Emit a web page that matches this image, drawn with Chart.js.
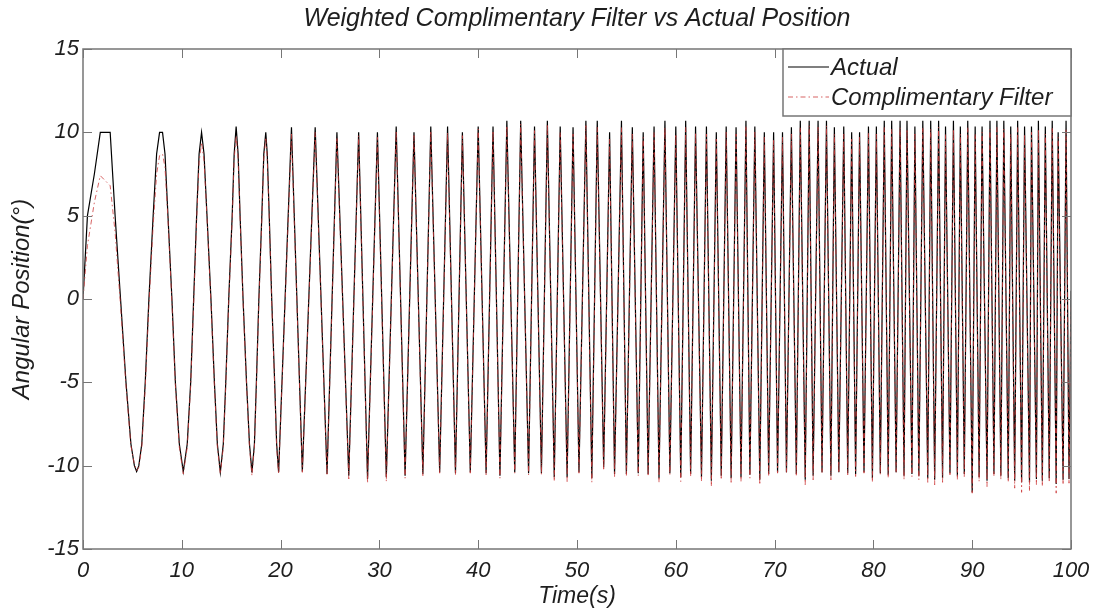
<!DOCTYPE html>
<html>
<head>
<meta charset="utf-8">
<script src="https://cdn.jsdelivr.net/npm/chart.js@4.4.1/dist/chart.umd.min.js"></script>
<style>
  body { margin: 0; background: #fff; }
  canvas { display: block; }
</style>
</head>
<body>
<canvas id="chirpChart" width="1102" height="612"></canvas>
<script>
// first few slow cycles, read with extra points so the shape stays round
var earlyTime = [0, 0.45, 1.15, 1.75, 2.75, 3.25, 3.8, 4.35, 4.85, 5.2,
  5.43, 5.65, 5.95, 6.3, 6.67, 7.1, 7.45, 7.75, 8.05, 8.3,
  8.6, 9.0, 9.35, 9.75, 10.15, 10.55, 10.9, 11.2, 11.5, 11.75,
  12.0, 12.25, 12.55, 12.95, 13.3, 13.6, 13.9, 14.2, 14.45, 14.75,
  15.1, 15.3, 15.5, 15.7, 15.9, 16.2, 16.55, 16.85, 17.1, 17.35,
  17.55, 17.8, 18.1, 18.3, 18.5, 18.65, 18.85, 19.1, 19.4, 19.6];
var earlyActual = [0, 5, 7.5, 10, 10, 5, 0, -5, -8.7, -10,
  -10.35, -10, -8.7, -5, 0, 5, 8.7, 10, 10, 8.7,
  5, 0, -5, -8.7, -10.35, -8.7, -5, 0, 5, 8.7,
  10, 8.7, 5, 0, -5, -8.7, -10.4, -8.7, -5, 0,
  5, 8.7, 10.35, 8.7, 5, 0, -5, -8.7, -10.4, -8.7,
  -5, 0, 5, 8.7, 10, 8.7, 5, 0, -5, -8.7];
var earlyFilter = [0, 3.2, 5.8, 7.4, 6.8, 4.0, -0.4, -5.2, -8.8, -9.9,
  -10.3, -10.1, -8.9, -5.3, -0.4, 4.4, 7.5, 8.6, 8.7, 7.9,
  4.8, -0.2, -5.2, -8.9, -10.5, -8.9, -5.2, -0.3, 4.7, 8.2,
  9.4, 8.3, 4.9, -0.2, -5.2, -8.9, -10.5, -8.9, -5.2, -0.2,
  4.8, 8.4, 9.8, 8.4, 4.9, -0.2, -5.1, -8.9, -10.6, -8.9,
  -5.2, -0.2, 4.8, 8.4, 9.7, 8.4, 4.9, -0.2, -5.2, -8.9];

// faster part: peaks and troughs
var peakTime = [21.1, 23.5, 25.7, 27.9, 29.8, 31.7, 33.5, 35.2, 36.9, 38.4,
  40.0, 41.5, 42.9, 44.3, 45.7, 47.0, 48.3, 49.6, 50.9, 52.05,
  53.3, 54.5, 55.6, 56.7, 57.8, 58.9, 60.0, 61.0, 62.0, 63.1,
  64.1, 65.1, 66.1, 67.1, 68.0, 68.96, 69.9, 70.8, 71.7, 72.6,
  73.5, 74.4, 75.25, 76.05, 77.0, 77.8, 78.6, 79.5, 80.3, 81.1,
  81.85, 82.7, 83.4, 84.2, 85.0, 85.8, 86.6, 87.3, 88.1, 88.8,
  89.55, 90.3, 91.0, 91.8, 92.5, 93.2, 93.9, 94.6, 95.3, 96.0,
  96.7, 97.4, 98.1, 98.7, 99.5];
var peakActual = [10.3, 10.3, 10.0, 10.0, 10.0, 10.35, 10.0, 10.35, 10.35, 10.0,
  10.35, 10.35, 10.7, 10.7, 10.35, 10.7, 10.35, 10.3, 10.7, 10.7,
  10.0, 10.7, 10.3, 10.0, 10.35, 10.7, 10.35, 10.7, 10.35, 10.35,
  10.0, 10.35, 10.3, 10.7, 10.35, 10.0, 10.0, 10.0, 10.3, 10.7,
  10.7, 10.7, 10.7, 10.3, 10.35, 10.0, 10.0, 10.35, 10.35, 10.7,
  10.7, 10.7, 10.7, 10.35, 10.7, 10.7, 10.7, 10.35, 10.7, 10.35,
  10.7, 10.35, 10.35, 10.7, 10.7, 10.7, 10.35, 10.7, 10.35, 10.35,
  10.7, 10.35, 10.7, 10.0, 10.7];
var peakFilter = [9.9, 10.0, 9.7, 9.8, 9.7, 10.1, 9.8, 10.1, 10.0, 9.8,
  10.2, 10.1, 10.4, 10.5, 10.1, 10.5, 10.0, 9.9, 10.4, 10.3,
  9.6, 10.3, 9.9, 9.7, 10.0, 10.3, 9.9, 10.3, 10.0, 9.9,
  9.6, 10.0, 9.9, 10.4, 10.0, 9.7, 9.6, 9.7, 9.9, 10.3,
  10.4, 10.3, 10.4, 9.9, 9.9, 9.6, 9.7, 10.0, 9.9, 10.3,
  10.2, 10.3, 10.2, 9.9, 10.3, 10.2, 10.3, 9.9, 10.2, 9.9,
  10.3, 9.9, 10.0, 10.2, 10.3, 10.2, 9.9, 10.3, 9.9, 10.0,
  10.2, 9.9, 10.3, 9.7, 10.2];

var troughTime = [19.8, 22.2, 24.7, 26.9, 28.8, 30.7, 32.6, 34.4, 36.1, 37.7,
  39.2, 40.8, 42.2, 43.7, 45.1, 46.4, 47.7, 49.0, 50.2, 51.5,
  52.7, 53.8, 55.0, 56.2, 57.2, 58.3, 59.4, 60.5, 61.5, 62.6,
  63.6, 64.6, 65.6, 66.6, 67.5, 68.5, 69.4, 70.3, 71.2, 72.2,
  73.1, 73.9, 74.8, 75.7, 76.5, 77.4, 78.2, 79.05, 79.9, 80.7,
  81.5, 82.3, 83.1, 83.9, 84.6, 85.5, 86.2, 87.0, 87.75, 88.5,
  89.2, 90.0, 90.7, 91.5, 92.2, 92.9, 93.65, 94.3, 95.0, 95.8,
  96.5, 97.1, 97.8, 98.5, 99.2, 99.8];
var troughActual = [-10.4, -10.35, -10.5, -10.6, -10.8, -10.7, -10.6, -10.5, -10.4, -10.45,
  -10.4, -10.45, -10.6, -10.4, -10.45, -10.45, -10.7, -10.7, -10.4, -10.75,
  -10.1, -10.5, -10.5, -10.45, -10.5, -10.75, -10.45, -10.7, -10.5, -10.7,
  -10.9, -10.6, -10.75, -10.7, -10.55, -10.85, -10.5, -10.4, -10.4, -10.5,
  -10.85, -10.6, -10.4, -10.6, -10.4, -10.45, -10.5, -10.4, -10.75, -10.45,
  -10.55, -10.4, -10.6, -10.5, -10.6, -10.75, -10.85, -10.75, -10.45, -10.6,
  -10.5, -11.6, -10.7, -10.9, -10.5, -10.6, -10.75, -10.9, -11.0, -11.0,
  -10.8, -10.9, -10.75, -11.1, -10.85, -10.8];
var troughFilter = [-10.5, -10.4, -10.6, -10.8, -11.05, -10.95, -10.75, -10.6, -10.45, -10.55,
  -10.45, -10.55, -10.75, -10.45, -10.55, -10.55, -10.95, -10.95, -10.45, -11.0,
  -10.3, -10.65, -10.65, -10.6, -10.65, -11.0, -10.55, -10.95, -10.65, -10.95,
  -11.25, -10.85, -11.0, -10.95, -10.75, -11.15, -10.65, -10.45, -10.45, -10.65,
  -11.15, -10.85, -10.45, -10.85, -10.45, -10.55, -10.65, -10.45, -11.0, -10.55,
  -10.75, -10.45, -10.85, -10.65, -10.85, -11.0, -11.15, -11.0, -10.55, -10.85,
  -10.65, -11.65, -10.95, -11.25, -10.65, -10.85, -11.0, -11.35, -11.6, -11.55,
  -11.15, -11.25, -11.0, -11.65, -11.15, -11.05];

var endTime = [100];
var endActual = [0.5];
var endFilter = [-0.5];

var yTicks = [-15, -10, -5, 0, 5, 10, 15];
var xTicks = [0, 10, 20, 30, 40, 50, 60, 70, 80, 90, 100];

var FONT = "'Liberation Sans', Arial, sans-serif";
var TEXT = '#1e1e1e';
var AXIS = '#767676';

function toPoints(times, values) {
    return times.map(function (t, i) { return { x: t, y: values[i] }; });
}

function buildSeries(early, peaks, troughs, end) {
    var pts = early.concat(peaks, troughs, end);
    pts.sort(function (a, b) { return a.x - b.x; });
    return pts;
}

var actualData = buildSeries(
    toPoints(earlyTime, earlyActual),
    toPoints(peakTime, peakActual),
    toPoints(troughTime, troughActual),
    toPoints(endTime, endActual));
var filterData = buildSeries(
    toPoints(earlyTime, earlyFilter),
    toPoints(peakTime, peakFilter),
    toPoints(troughTime, troughFilter),
    toPoints(endTime, endFilter));

// MATLAB style box, inward ticks and legend in the corner
var framePlugin = {
    id: 'frame',
    afterLayout: function (chart) {
        // centre the title over the plot box, like MATLAB does
        if (chart.titleBlock) {
            chart.titleBlock.left = chart.chartArea.left;
            chart.titleBlock.right = chart.chartArea.right;
        }
    },
    afterDatasetsDraw: function (chart) {
        var ctx = chart.ctx;
        var a = chart.chartArea;
        var xs = chart.scales.x, ys = chart.scales.y;
        ctx.save();
        ctx.strokeStyle = AXIS;
        ctx.lineWidth = 1.5;
        ctx.strokeRect(a.left, a.top, a.right - a.left, a.bottom - a.top);

        ctx.beginPath();
        xTicks.forEach(function (v) {
            var px = Math.round(xs.getPixelForValue(v)) + 0.5;
            ctx.moveTo(px, a.bottom); ctx.lineTo(px, a.bottom - 9);
            ctx.moveTo(px, a.top); ctx.lineTo(px, a.top + 9);
        });
        yTicks.forEach(function (v) {
            var py = Math.round(ys.getPixelForValue(v)) + 0.5;
            ctx.moveTo(a.left, py); ctx.lineTo(a.left + 9, py);
            ctx.moveTo(a.right, py); ctx.lineTo(a.right - 9, py);
        });
        ctx.lineWidth = 1;
        ctx.stroke();

        // legend
        var bx = 783, by = a.top, bw = a.right - 783, bh = 67;
        ctx.fillStyle = '#fff';
        ctx.fillRect(bx, by, bw, bh);
        ctx.lineWidth = 1.5;
        ctx.strokeRect(bx, by, bw, bh);

        var rows = [
            { ds: chart.data.datasets[0], y: by + 18 },
            { ds: chart.data.datasets[1], y: by + 48 }
        ];
        rows.forEach(function (r) {
            ctx.beginPath();
            ctx.strokeStyle = r.ds.borderColor;
            ctx.lineWidth = 1.2;
            ctx.setLineDash(r.ds.borderDash || []);
            ctx.moveTo(bx + 5, r.y);
            ctx.lineTo(bx + 46, r.y);
            ctx.stroke();
            ctx.setLineDash([]);
            ctx.fillStyle = TEXT;
            ctx.font = 'italic 24px ' + FONT;
            ctx.textBaseline = 'middle';
            ctx.textAlign = 'left';
            ctx.fillText(r.ds.label, bx + 48, r.y + 1);
        });
        ctx.restore();
    }
};

var ctxChirp = document.getElementById('chirpChart').getContext('2d');

var chirpChart = new Chart(ctxChirp, {
    type: 'line',
    data: {
        datasets: [{
            label: 'Actual',
            data: actualData,
            borderColor: '#000000',
            borderWidth: 1.2,
            pointRadius: 0,
            tension: 0,
            order: 1
        }, {
            label: 'Complimentary Filter',
            data: filterData,
            borderColor: 'rgba(205, 60, 60, 0.8)',
            borderWidth: 1,
            borderDash: [5, 3, 1.5, 3],
            pointRadius: 0,
            tension: 0,
            order: 0
        }]
    },
    options: {
        responsive: false,
        animation: false,
        devicePixelRatio: 1,
        layout: {
            padding: { left: 0, right: 31, top: 0, bottom: 0 }
        },
        plugins: {
            legend: { display: false },
            tooltip: { enabled: false },
            title: {
                display: true,
                text: 'Weighted Complimentary Filter vs Actual Position',
                color: TEXT,
                font: { family: FONT, size: 25, style: 'italic', weight: 'normal' },
                padding: { top: 4, bottom: 15 }
            }
        },
        scales: {
            x: {
                type: 'linear',
                min: 0,
                max: 100,
                afterBuildTicks: function (scale) {
                    scale.ticks = xTicks.map(function (v) { return { value: v }; });
                },
                afterFit: function (scale) { scale.height = 63; },
                grid: { display: false, drawTicks: false },
                border: { display: false },
                ticks: {
                    color: TEXT,
                    padding: 9,
                    maxRotation: 0,
                    autoSkip: false,
                    font: { family: FONT, size: 22, style: 'italic' }
                },
                title: {
                    display: true,
                    text: 'Time(s)',
                    color: TEXT,
                    font: { family: FONT, size: 23, style: 'italic' },
                    padding: { top: 0, bottom: 2 }
                }
            },
            y: {
                type: 'linear',
                min: -15,
                max: 15,
                afterBuildTicks: function (scale) {
                    scale.ticks = yTicks.map(function (v) { return { value: v }; });
                },
                afterFit: function (scale) { scale.width = 83; },
                grid: { display: false, drawTicks: false },
                border: { display: false },
                ticks: {
                    color: TEXT,
                    padding: 4,
                    autoSkip: false,
                    font: { family: FONT, size: 22, style: 'italic' }
                },
                title: {
                    display: true,
                    text: 'Angular Position(°)',
                    color: TEXT,
                    font: { family: FONT, size: 24, style: 'italic' },
                    padding: { top: 8, bottom: 0 }
                }
            }
        }
    },
    plugins: [framePlugin]
});
</script>
</body>
</html>
